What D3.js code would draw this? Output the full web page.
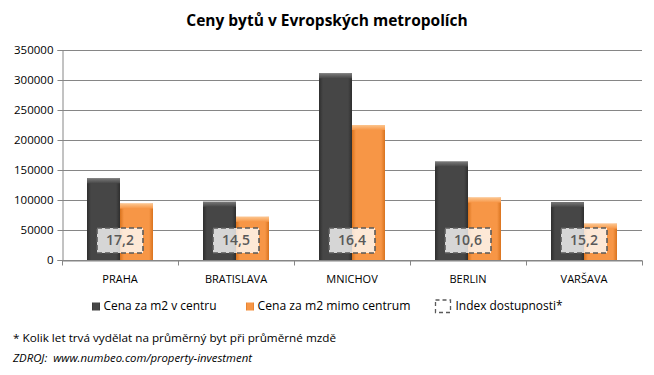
<!DOCTYPE html>
<html>
<head>
<meta charset="utf-8">
<script src="https://cdn.jsdelivr.net/npm/d3@7"></script>
<style>
  body { margin: 0; background: #fff; }
  text { font-family: 'Open Sans', 'DejaVu Sans', sans-serif; }
</style>
</head>
<body>
<div id="chart"></div>
<script>
const cities = ['PRAHA', 'BRATISLAVA', 'MNICHOV', 'BERLIN', 'VARŠAVA']
const centrum = [136000, 97000, 311000, 164000, 96500]
const mimoCentrum = [94000, 72000, 225000, 104000, 60500]
const indexDostupnosti = ['17,2', '14,5', '16,4', '10,6', '15,2']
const yTicks = [0, 50000, 100000, 150000, 200000, 250000, 300000, 350000]
const seriesNames = ['Cena za m2 v centru', 'Cena za m2 mimo centrum', 'Index dostupnosti*']

const svg = d3.select('#chart')
  .append('svg')
  .attr('width', 654)
  .attr('height', 375)

const margin = { top: 50, right: 12, bottom: 115, left: 62 }
const width = 654 - margin.left - margin.right
const height = 375 - margin.top - margin.bottom

const defs = svg.append('defs')
const bevel = (id, dark, mid, light) => {
  const gr = defs.append('linearGradient').attr('id', id).attr('x1', 0).attr('x2', 1)
  gr.append('stop').attr('offset', '0%').attr('stop-color', dark)
  gr.append('stop').attr('offset', '12%').attr('stop-color', mid)
  gr.append('stop').attr('offset', '88%').attr('stop-color', mid)
  gr.append('stop').attr('offset', '100%').attr('stop-color', dark)
  const top = defs.append('linearGradient').attr('id', id + '-top').attr('x1', 0).attr('x2', 0).attr('y1', 0).attr('y2', 1)
  top.append('stop').attr('offset', '0%').attr('stop-color', light)
  top.append('stop').attr('offset', '100%').attr('stop-color', mid)
}
bevel('gDark', '#2e2e2e', '#464646', '#7a7a7a')
bevel('gOrange', '#d9731e', '#f79646', '#fcc58e')

const x = d3.scaleBand().domain(cities).range([0, width])
const y = d3.scaleLinear().domain([0, 350000]).range([height, 0])
const x1 = d3.scaleBand().domain([0, 1]).range([0, 66])
const offset = (x.bandwidth() - 66) / 2

svg.append('text')
  .attr('x', 327)
  .attr('y', 26)
  .attr('text-anchor', 'middle')
  .attr('font-size', 15.5)
  .attr('font-weight', 'bold')
  .attr('fill', '#000')
  .text('Ceny bytů v Evropských metropolích')

const g = svg.append('g').attr('transform', `translate(${margin.left},${margin.top})`)

g.append('g')
  .selectAll('line')
  .data(yTicks)
  .enter()
  .append('line')
  .attr('x1', 0)
  .attr('x2', width)
  .attr('y1', (d) => Math.round(y(d)) + 0.5)
  .attr('y2', (d) => Math.round(y(d)) + 0.5)
  .attr('stroke', '#868686')

const yAxis = g.append('g')
  .attr('transform', 'translate(0.5,0)')
  .call(d3.axisLeft(y).tickValues(yTicks).tickSize(5).tickFormat(d3.format('d')))
yAxis.select('.domain').attr('stroke', '#868686')
yAxis.selectAll('.tick line').attr('stroke', '#868686')
yAxis.selectAll('.tick text').attr('font-size', 11.5).attr('fill', '#000').attr('x', -9)
  .style('font-family', "'Open Sans', sans-serif")

const xAxis = g.append('g')
  .attr('transform', `translate(0,${Math.round(height) + 0.5})`)
  .call(d3.axisBottom(x).tickSize(0).tickPadding(15))
xAxis.select('.domain').attr('stroke', '#868686')
xAxis.selectAll('.tick text').attr('font-size', 11).attr('fill', '#000')
  .style('font-family', "'Open Sans', sans-serif")
xAxis.selectAll('.sep')
  .data(d3.range(cities.length + 1))
  .enter()
  .append('line')
  .attr('x1', (i) => Math.round(i * x.step()) + 0.5)
  .attr('x2', (i) => Math.round(i * x.step()) + 0.5)
  .attr('y1', 0)
  .attr('y2', 5)
  .attr('stroke', '#868686')

const drawBars = (values, idx, fill) => {
  const bars = g.append('g').selectAll('g')
    .data(values)
    .enter()
    .append('g')
    .attr('transform', (d, i) => `translate(${x(cities[i]) + offset + x1(idx)},0)`)
  bars.append('rect')
    .attr('x', 0)
    .attr('y', (d) => y(d))
    .attr('width', x1.bandwidth())
    .attr('height', (d) => height - y(d))
    .attr('fill', `url(#${fill})`)
  bars.append('rect')
    .attr('x', 0)
    .attr('y', (d) => y(d))
    .attr('width', x1.bandwidth())
    .attr('height', 5)
    .attr('fill', `url(#${fill}-top)`)
}
drawBars(centrum, 0, 'gDark')
drawBars(mimoCentrum, 1, 'gOrange')

const boxes = g.append('g').selectAll('g')
  .data(indexDostupnosti)
  .enter()
  .append('g')
  .attr('transform', (d, i) => `translate(${x(cities[i]) + x.bandwidth() / 2},${height - 20})`)
boxes.append('rect')
  .attr('x', -23)
  .attr('y', -12)
  .attr('width', 46)
  .attr('height', 25)
  .attr('fill', 'rgba(255,255,255,0.78)')
  .attr('stroke', '#5a5a5a')
  .attr('stroke-width', 1.6)
  .attr('stroke-dasharray', '5,3')
boxes.append('text')
  .attr('text-anchor', 'middle')
  .attr('dy', '0.36em')
  .attr('font-size', 14)
  .attr('font-weight', 600)
  .attr('fill', '#595959')
  .text((d) => d)

// legenda
const legend = svg.append('g').attr('transform', 'translate(0,306)')
const items = [
  { x: 92, tx: 103.5, len: 113, fill: 'url(#gDark)', dash: false },
  { x: 246, tx: 257.5, len: 153, fill: 'url(#gOrange)', dash: false },
  { x: 435.5, tx: 455.5, len: 107, fill: 'none', dash: true }
]
items.forEach((it, i) => {
  if (it.dash) {
    legend.append('rect')
      .attr('x', it.x).attr('y', -6).attr('width', 15).attr('height', 12.5)
      .attr('fill', '#fff').attr('stroke', '#5a5a5a').attr('stroke-width', 1.3)
      .attr('stroke-dasharray', '4,3')
  } else {
    legend.append('rect')
      .attr('x', it.x).attr('y', -3.5).attr('width', 8).attr('height', 8)
      .attr('fill', it.fill)
  }
  legend.append('text')
    .attr('x', it.tx)
    .attr('y', 0)
    .attr('dy', '0.35em')
    .attr('font-size', 12)
    .attr('fill', '#000')
    .attr('textLength', it.len)
    .attr('lengthAdjust', 'spacingAndGlyphs')
    .text(seriesNames[i])
})

svg.append('text')
  .attr('x', 13)
  .attr('y', 342)
  .attr('font-size', 11.5)
  .attr('fill', '#000')
  .attr('textLength', 323)
  .attr('lengthAdjust', 'spacingAndGlyphs')
  .text('* Kolik let trvá vydělat na průměrný byt při průměrné mzdě')

svg.append('text')
  .attr('x', 13)
  .attr('y', 362)
  .attr('font-size', 11.5)
  .attr('font-style', 'italic')
  .attr('fill', '#000')
  .style('white-space', 'pre')
  .attr('textLength', 239)
  .attr('lengthAdjust', 'spacingAndGlyphs')
  .text('ZDROJ:  www.numbeo.com/property-investment')
</script>
</body>
</html>
